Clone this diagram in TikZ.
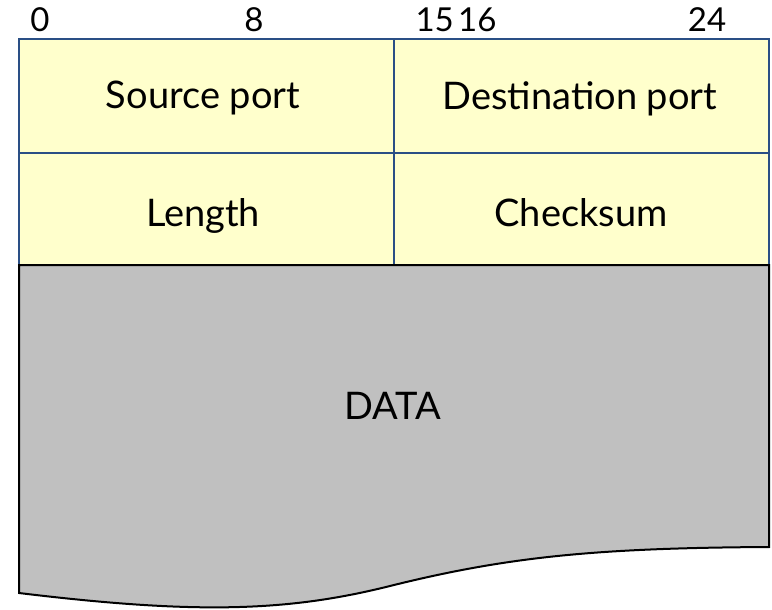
\documentclass[tikz,border=0pt]{standalone}
\usepackage{fontspec}
\setmainfont{Lato}
\definecolor{hdrfill}{HTML}{FFFFCC}
\definecolor{hdrline}{HTML}{2A4F85}
\definecolor{datafill}{HTML}{C0C0C0}
\tikzset{
  field/.style={font=\fontsize{38}{42}\selectfont, text=black, inner sep=0pt, anchor=base},
  bitmark/.style={font=\fontsize{33}{36}\selectfont, text=black, inner sep=0pt},
  hdrgrid/.style={draw=hdrline, line width=2.4pt},
}
\begin{document}
\begin{tikzpicture}[x=1pt,y=-1pt]
\useasboundingbox (0,0) rectangle (772,610);
% header area: two rows of 16-bit fields
\fill[hdrfill] (19,39) rectangle (769,265);
\draw[hdrgrid] (19,39) rectangle (769,265);
\draw[hdrgrid] (19,153) -- (769,153);
\draw[hdrgrid] (394,39) -- (394,265);
% payload with torn lower edge
\filldraw[fill=datafill, draw=black, line width=2pt, line join=miter]
  (19,265) -- (769,265) -- (769,547)
  .. controls (600,548) and (510,556) .. (390,586)
  .. controls (290,611) and (200,615) .. (19,593) -- cycle;
% bit positions
\node[bitmark, anchor=base] (b0) at (40,32) {0};
\node[bitmark, anchor=base] (b8) at (254,32) {8};
\node[bitmark, anchor=base east] (b15) at (454,32) {15};
\node[bitmark, anchor=base west] (b16) at (458,32) {16};
\node[bitmark, anchor=base] (b24) at (707,32) {24};
% field names
\node[field] (src) at (203,109) {Source port};
\node[field] (dst) at (580,110) {Destination port};
\node[field] (len) at (203,226) {Length};
\node[field] (chk) at (581,226) {Checksum};
\node[field] (data) at (393,419) {DATA};
\end{tikzpicture}
\end{document}
